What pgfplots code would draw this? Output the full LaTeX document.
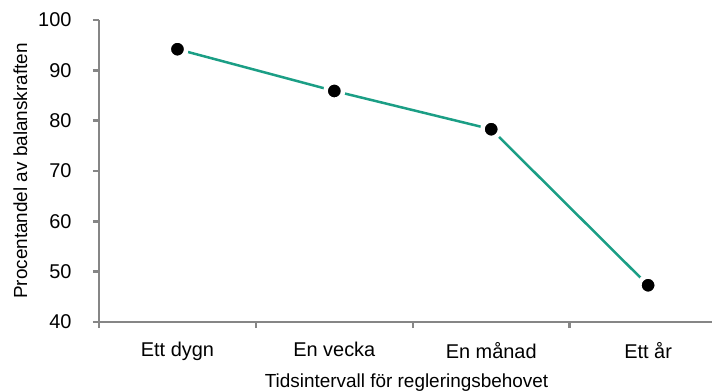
\documentclass[border=0pt]{standalone}
\usepackage{fontspec}
\setmainfont{Liberation Sans}
\usepackage{pgfplots}
\pgfplotsset{compat=1.18}
\definecolor{teal1}{HTML}{1B9E85}
\definecolor{axgray}{HTML}{868686}
\begin{document}
\begin{tikzpicture}[x=1bp,y=1bp]
\begin{axis}[
  at={(99bp,70bp)}, anchor=south west,
  scale only axis,
  width=615bp, height=302bp,
  xmin=-0.5, xmax=3.42,
  ymin=40, ymax=100,
  axis lines*=left,
  axis line style={axgray, line width=2.4bp, -},
  every tick/.style={axgray, line width=2.4bp},
  ytick={40,50,...,100},
  xtick={-0.5,0.5,1.5,2.5},
  xticklabels={},
  extra x ticks={0,1,2,3},
  extra x tick labels={Ett dygn,En vecka,En månad,Ett år},
  extra x tick style={major tick length=0pt},
  major tick length=6bp,
  tick align=outside,
  tick label style={font=\fontsize{20}{23}\selectfont},
  label style={font=\fontsize{19}{22}\selectfont},
  /pgf/number format/assume math mode=true,
  xlabel={Tidsintervall för regleringsbehovet},
  ylabel={Procentandel av balanskraften},
  yticklabel style={xshift=-18bp},
  xticklabel style={yshift=-17bp},
  ylabel style={yshift=4bp},
  clip=false,
]
\addplot[teal1, line width=2.5bp, mark=*, mark size=8.75bp,
  mark options={fill=black, draw=white, line width=4.5bp}]
  coordinates {(0,94.2) (1,85.9) (2,78.3) (3,47.3)};
\end{axis}
\pgfresetboundingbox
\useasboundingbox (0,0) rectangle (712bp,392bp);
\end{tikzpicture}
\end{document}
